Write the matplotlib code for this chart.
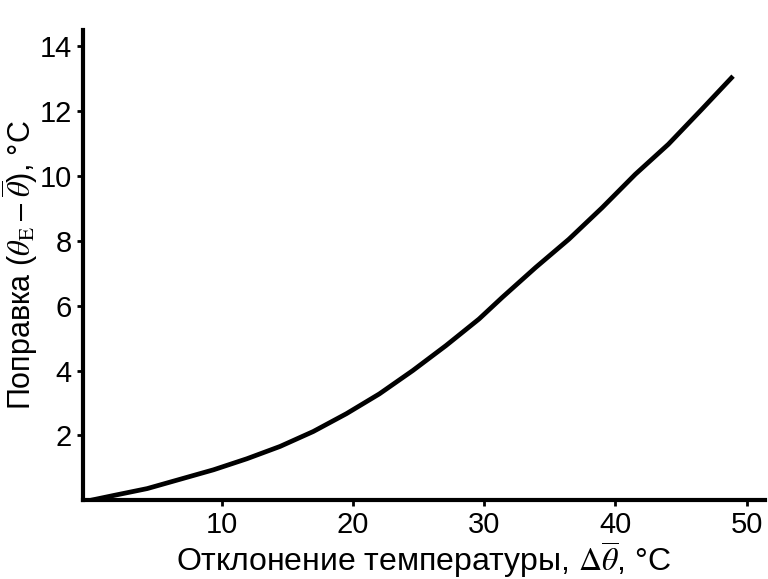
import matplotlib
matplotlib.use("Agg")
import matplotlib.pyplot as plt

plt.rcParams["font.family"] = ["Liberation Sans", "DejaVu Sans"]
plt.rcParams["mathtext.fontset"] = "stix"

# values
dev_temp = [0, 1.77, 4.3, 6.83, 9.36, 11.9, 14.43, 16.96, 19.49, 22.0, 24.55,
            27.08, 29.6, 31.38, 33.92, 36.45, 38.98, 41.51, 44.04, 46.57, 48.97]
correction = [0, 0.15, 0.36, 0.65, 0.94, 1.28, 1.66, 2.12, 2.67, 3.28, 4.0,
              4.77, 5.59, 6.26, 7.18, 8.05, 9.02, 10.05, 10.98, 12.05, 13.08]
x_ticks = [10, 20, 30, 40, 50]
y_ticks = [2, 4, 6, 8, 10, 12, 14]

fig = plt.figure(figsize=(7.68, 5.79), dpi=100)
ax = fig.add_axes([0.108, 0.136, 0.888, 0.812])

ax.plot(dev_temp, correction, color="black", linewidth=3.4, solid_capstyle="butt")

ax.set_xlim(-0.6, 51.4)
ax.set_ylim(0, 14.5)
ax.set_xticks(x_ticks)
ax.set_yticks(y_ticks)

for side in ["top", "right"]:
    ax.spines[side].set_visible(False)
for side in ["left", "bottom"]:
    ax.spines[side].set_linewidth(3)

ax.tick_params(direction="out", length=4, width=2, labelsize=21, pad=4)

ax.set_xlabel(r"Отклонение температуры, $\Delta\overline{\theta}$, °C", fontsize=23, labelpad=0)
ax.set_ylabel(r"Поправка ($\theta_{\mathrm{E}} - \overline{\theta}$), °C", fontsize=22, labelpad=-0.5)

fig.savefig("out.png", dpi=100)
